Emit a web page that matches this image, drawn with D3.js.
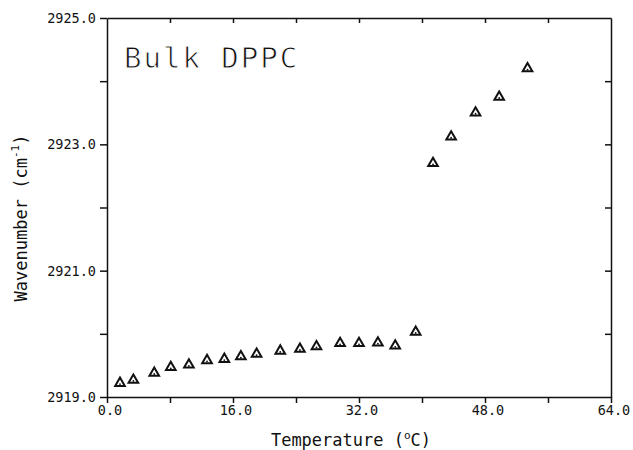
<!DOCTYPE html>
<html>
<head>
<meta charset="utf-8">
<script src="https://cdn.jsdelivr.net/npm/d3@7"></script>
<style>
  body { margin: 0; background: #fff; }
  text { font-family: "DejaVu Sans Mono", monospace; fill: #111; }
</style>
</head>
<body>
<svg id="drawing_region"></svg>
<script>
// temperature (deg C) and CH2 stretching wavenumber (cm-1)
const temperature = [1.65, 3.35, 6.0, 8.1, 10.4, 12.7, 14.9, 17.0, 19.0, 22.0, 24.5, 26.6,
                     29.6, 32.0, 34.4, 36.6, 39.2, 41.4, 43.7, 46.8, 49.8, 53.4];
const wavenumber = [2919.22, 2919.27, 2919.38, 2919.47, 2919.51, 2919.58, 2919.60, 2919.64,
                    2919.68, 2919.73, 2919.76, 2919.80, 2919.85, 2919.85, 2919.86, 2919.81,
                    2920.03, 2922.70, 2923.12, 2923.50, 2923.75, 2924.20];
const xTicks = [0, 16, 32, 48, 64];
const yTicks = [2919, 2921, 2923, 2925];

const data = temperature.map((t, i) => ({ t: t, w: wavenumber[i] }));

const width = 633, height = 450;
const margin = { top: 18, right: 22, bottom: 53, left: 107 };

const svg = d3.select('#drawing_region')
    .attr('width', width)
    .attr('height', height);

const xscale = d3.scaleLinear()
    .domain([0, 64])
    .range([margin.left, width - margin.right]);

const yscale = d3.scaleLinear()
    .domain([2919, 2925])
    .range([height - margin.bottom, margin.top]);

const fmt = d3.format('.1f');

// bottom axis: ticks every 8, outward
svg.append('g')
    .attr('transform', `translate(0, ${yscale(2919)})`)
    .call(d3.axisBottom(xscale).tickValues(d3.range(0, 65, 8)).tickSize(6).tickSizeOuter(0).tickFormat(''))
    .call(g => g.selectAll('line, path').attr('stroke', '#111').attr('stroke-width', 1.5));

// top axis: inward ticks
svg.append('g')
    .attr('transform', `translate(0, ${yscale(2925)})`)
    .call(d3.axisTop(xscale).tickValues(d3.range(8, 64, 8)).tickSize(-5).tickSizeOuter(0).tickFormat(''))
    .call(g => g.selectAll('line, path').attr('stroke', '#111').attr('stroke-width', 1.5));

// left axis: outward ticks every 1
svg.append('g')
    .attr('transform', `translate(${xscale(0)}, 0)`)
    .call(d3.axisLeft(yscale).tickValues(d3.range(2919, 2925.5, 1)).tickSize(7).tickSizeOuter(0).tickFormat(''))
    .call(g => g.selectAll('line, path').attr('stroke', '#111').attr('stroke-width', 1.5));

// right axis: inward ticks
svg.append('g')
    .attr('transform', `translate(${xscale(64)}, 0)`)
    .call(d3.axisRight(yscale).tickValues(d3.range(2920, 2925, 1)).tickSize(-6).tickSizeOuter(0).tickFormat(''))
    .call(g => g.selectAll('line, path').attr('stroke', '#111').attr('stroke-width', 1.5));

// tick labels
svg.append('g').selectAll('text')
    .data(xTicks)
    .join('text')
    .attr('x', d => xscale(d) + 3)
    .attr('y', yscale(2919) + 18)
    .attr('text-anchor', 'middle')
    .attr('font-size', 13.5)
    .text(d => fmt(d));

svg.append('g').selectAll('text')
    .data(yTicks)
    .join('text')
    .attr('x', xscale(0) - 11)
    .attr('y', d => yscale(d) + 5)
    .attr('text-anchor', 'end')
    .attr('font-size', 13.5)
    .text(d => fmt(d));

// axis titles
const xt = svg.append('text')
    .attr('x', 351)
    .attr('y', 446)
    .attr('text-anchor', 'middle')
    .attr('font-size', 17);
xt.append('tspan').text('Temperature (');
xt.append('tspan').attr('font-size', 11).attr('dy', -7).text('o');
xt.append('tspan').attr('dy', 7).text('C)');

const yt = svg.append('text')
    .attr('transform', 'translate(27, 218) rotate(-90)')
    .attr('text-anchor', 'middle')
    .attr('font-size', 17);
yt.append('tspan').text('Wavenumber (cm');
yt.append('tspan').attr('font-size', 11).attr('dy', -8).text('-1');
yt.append('tspan').attr('dy', 8).text(')');

// title (thin plotter look)
svg.append('text')
    .attr('x', 124)
    .attr('y', 68)
    .attr('font-size', 29)
    .attr('letter-spacing', 2)
    .attr('stroke', '#fff')
    .attr('stroke-width', 0.9)
    .text('Bulk DPPC');

// data markers
const tri = d3.symbol().type(d3.symbolTriangle).size(40);
const marks = svg.append('g').selectAll('g')
    .data(data)
    .join('g')
    .attr('transform', d => `translate(${xscale(d.t)}, ${yscale(d.w)})`);
marks.append('path')
    .attr('d', tri)
    .attr('fill', '#fff')
    .attr('stroke', '#111')
    .attr('stroke-width', 2);
marks.append('circle')
    .attr('cx', 0)
    .attr('cy', 1)
    .attr('r', 0.9)
    .attr('fill', '#111');
</script>
</body>
</html>
